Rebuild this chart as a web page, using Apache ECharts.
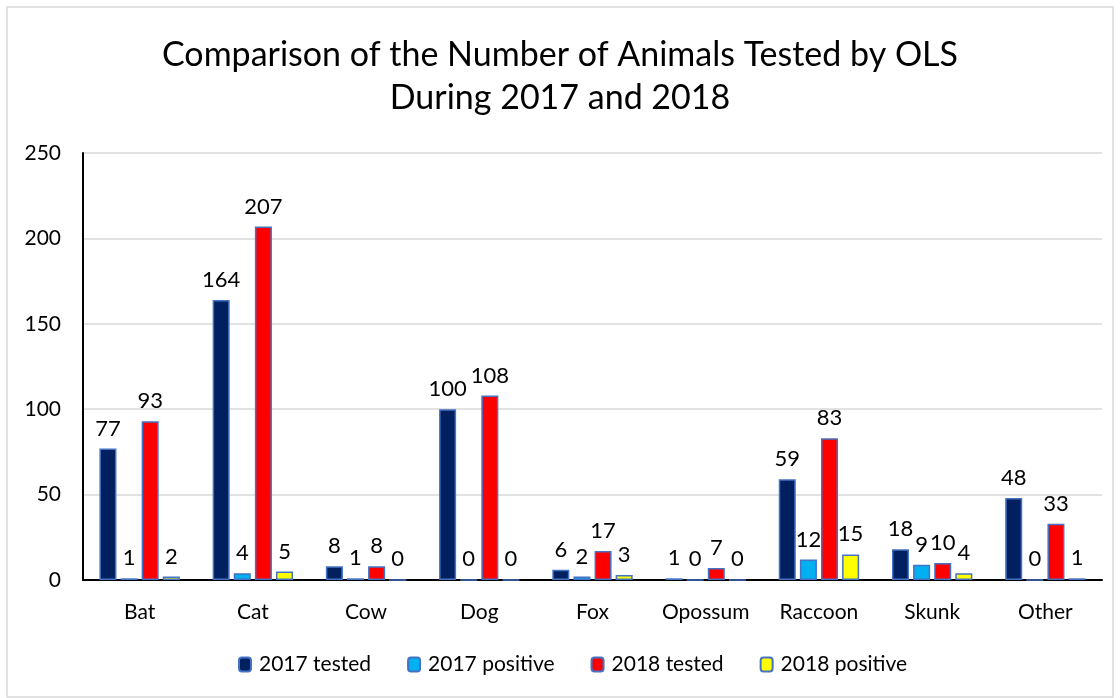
<!DOCTYPE html>
<html>
<head>
<meta charset="utf-8">
<script src="https://cdn.jsdelivr.net/npm/echarts@6/dist/echarts.min.js"></script>
<style>
  html, body { margin: 0; padding: 0; background: #fff; }
  #chart { width: 1120px; height: 698px; }
</style>
</head>
<body>
<div id="chart"></div>
<script>
  var animals = ['Bat', 'Cat', 'Cow', 'Dog', 'Fox', 'Opossum', 'Raccoon', 'Skunk', 'Other']
  var tested2017 = [77, 164, 8, 100, 6, 1, 59, 18, 48]
  var positive2017 = [1, 4, 1, 0, 2, 0, 12, 9, 0]
  var tested2018 = [93, 207, 8, 108, 17, 7, 83, 10, 33]
  var positive2018 = [2, 5, 0, 0, 3, 0, 15, 4, 1]

  var font = 'Lato, "Open Sans", sans-serif'

  function makeSeries(name, data, color) {
    return {
      name: name,
      type: 'bar',
      data: data,
      barGap: '24%',
      barCategoryGap: '29%',
      itemStyle: {
        color: color,
        borderColor: '#4472C4',
        borderWidth: 1.5
      },
      label: {
        show: true,
        position: 'top',
        distance: 9,
        color: '#000',
        fontFamily: font,
        fontSize: 22
      }
    }
  }

  var myChart = echarts.init(document.getElementById('chart'))
  myChart.setOption({
    animation: false,
    title: {
      text: 'Comparison of the Number of Animals Tested by OLS\nDuring 2017 and 2018',
      left: 'center',
      top: 29,
      textStyle: {
        fontFamily: font,
        fontWeight: 'normal',
        fontSize: 34,
        lineHeight: 43,
        color: '#000'
      }
    },
    legend: {
      bottom: 18,
      left: 233,
      itemWidth: 12,
      itemHeight: 14,
      itemGap: 36,
      textStyle: {
        fontFamily: font,
        fontSize: 21,
        color: '#000',
        padding: [0, 0, 0, 3]
      },
      data: ['2017 tested', '2017 positive', '2018 tested', '2018 positive']
    },
    grid: {
      left: 83,
      right: 18,
      top: 153,
      bottom: 118
    },
    xAxis: {
      type: 'category',
      data: animals,
      axisLine: { lineStyle: { color: '#000', width: 2 } },
      axisTick: { show: false },
      axisLabel: {
        interval: 0,
        color: '#000',
        fontFamily: font,
        fontSize: 21,
        margin: 22
      }
    },
    yAxis: {
      type: 'value',
      min: 0,
      max: 250,
      interval: 50,
      axisLine: { show: true, lineStyle: { color: '#000', width: 2 } },
      axisTick: { show: false },
      axisLabel: {
        color: '#000',
        fontFamily: font,
        fontSize: 21,
        margin: 22
      },
      splitLine: { lineStyle: { color: '#d9d9d9', width: 1.5 } }
    },
    graphic: [{
      type: 'rect',
      shape: { x: 7, y: 7, width: 1106, height: 690 },
      style: { fill: 'none', stroke: '#d9d9d9', lineWidth: 1.5 }
    }],
    series: [
      makeSeries('2017 tested', tested2017, '#002060'),
      makeSeries('2017 positive', positive2017, '#00B0F0'),
      makeSeries('2018 tested', tested2018, '#FF0000'),
      makeSeries('2018 positive', positive2018, '#FFFF00')
    ]
  })
</script>
</body>
</html>
